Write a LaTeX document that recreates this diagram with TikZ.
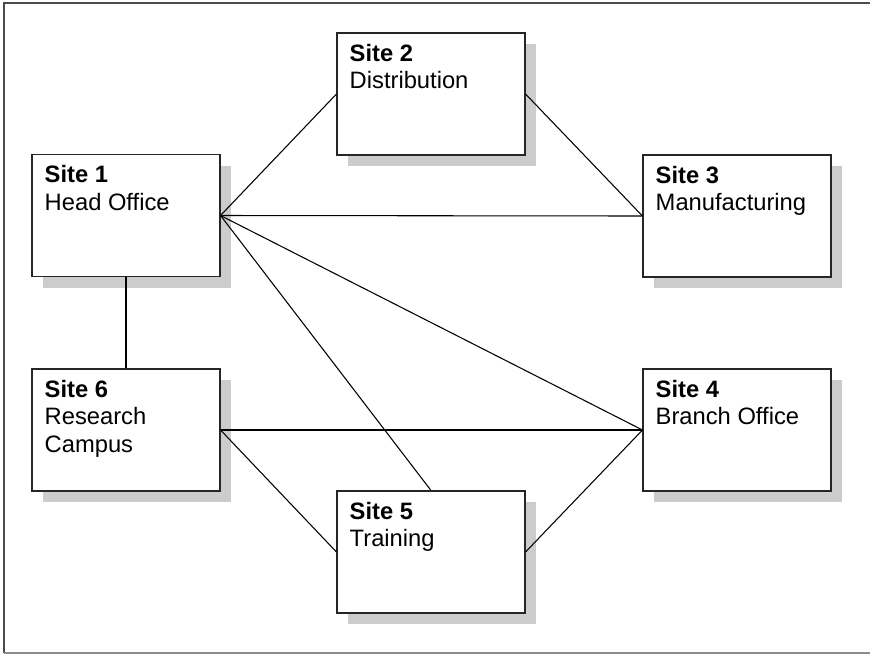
\documentclass[tikz,border=0pt]{standalone}
\usepackage{fontspec}
\setmainfont{Liberation Sans}
\usetikzlibrary{shadows}
% stacked label whose baseline is that of its first line
\newcommand{\sitelabel}[2]{\vtop{\hbox{\textbf{#1}}#2}}
\newcommand{\siteline}[1]{\hbox{#1}}
\tikzset{
  sitebox/.style={draw=black!85, line width=0.8pt, fill=white, inner sep=0pt,
    minimum width=141pt, minimum height=91.5pt,
    drop shadow={shadow xshift=8.25pt, shadow yshift=-8.25pt, fill=black!20, opacity=1}},
  sitetext/.style={anchor=base west, inner sep=0pt,
    font=\fontsize{17.8}{20.6}\selectfont},
  link/.style={draw=black, line width=0.8pt},
  frameline/.style={draw=black!70, line width=1.5pt}
}
\begin{document}
\begin{tikzpicture}[x=0.75pt, y=-0.75pt]
  \useasboundingbox (0,0) rectangle (870,654);
  % outer frame
  \coordinate (ftl) at (4,3);
  \coordinate (ftr) at (870,3);
  \coordinate (fbl) at (4,652.5);
  \coordinate (fbr) at (870,652.5);
  \draw[frameline] (ftr) -- (ftl) -- (fbl);
  \draw[draw=black!45, line width=1.5pt] (fbl) -- (fbr);

  % sites
  \node[sitebox] (s1) at (126,215.5) {};
  \node[sitebox] (s2) at (431,94) {};
  \node[sitebox] (s3) at (737,216) {};
  \node[sitebox] (s4) at (737,430) {};
  \node[sitebox] (s5) at (431,552) {};
  \node[sitebox] (s6) at (126,430) {};

  \node[sitetext] (t1) at ([shift={(13,28.7)}]s1.north west) {\sitelabel{Site 1}{\siteline{Head Office}}};
  \node[sitetext] (t2) at ([shift={(13,28.7)}]s2.north west) {\sitelabel{Site 2}{\siteline{Distribution}}};
  \node[sitetext] (t3) at ([shift={(13,28.7)}]s3.north west) {\sitelabel{Site 3}{\siteline{Manufacturing}}};
  \node[sitetext] (t4) at ([shift={(13,28.7)}]s4.north west) {\sitelabel{Site 4}{\siteline{Branch Office}}};
  \node[sitetext] (t5) at ([shift={(13,28.7)}]s5.north west) {\sitelabel{Site 5}{\siteline{Training}}};
  \node[sitetext] (t6) at ([shift={(13,28.7)}]s6.north west) {\sitelabel{Site 6}{\siteline{Research}\siteline{Campus}}};

  % links
  \draw[link] (s1.east) -- (s2.west);
  \draw[link] (s2.east) -- (s3.west);
  \draw[link] (s1.east) -- (s3.west);
  \draw[link] (s1.east) -- (s4.west);
  \draw[link] (s1.east) -- (s5.north);
  \draw[link] (s1.south) -- (s6.north);
  \draw[link] (s6.east) -- (s4.west);
  \draw[link] (s6.east) -- (s5.west);
  \draw[link] (s5.east) -- (s4.west);
\end{tikzpicture}
\end{document}
